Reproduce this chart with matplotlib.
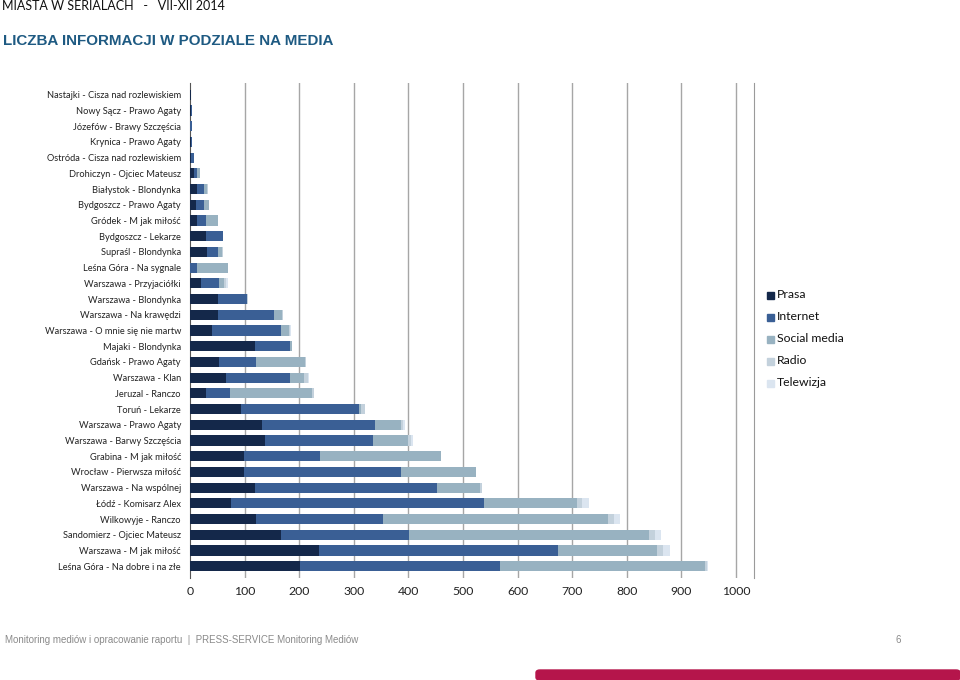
import matplotlib
matplotlib.use("Agg")
import matplotlib.pyplot as plt
import numpy as np
from matplotlib.patches import FancyBboxPatch, Rectangle

labels = [
    "Nastajki - Cisza nad rozlewiskiem",
    "Nowy Sącz - Prawo Agaty",
    "Józefów - Brawy Szczęścia",
    "Krynica - Prawo Agaty",
    "Ostróda - Cisza nad rozlewiskiem",
    "Drohiczyn - Ojciec Mateusz",
    "Białystok - Blondynka",
    "Bydgoszcz - Prawo Agaty",
    "Gródek - M jak miłość",
    "Bydgoszcz - Lekarze",
    "Supraśl - Blondynka",
    "Leśna Góra - Na sygnale",
    "Warszawa - Przyjaciółki",
    "Warszawa - Blondynka",
    "Warszawa - Na krawędzi",
    "Warszawa - O mnie się nie martw",
    "Majaki - Blondynka",
    "Gdańsk - Prawo Agaty",
    "Warszawa - Klan",
    "Jeruzal - Ranczo",
    "Toruń - Lekarze",
    "Warszawa - Prawo Agaty",
    "Warszawa - Barwy Szczęścia",
    "Grabina - M jak miłość",
    "Wrocław - Pierwsza miłość",
    "Warszawa - Na wspólnej",
    "Łódź - Komisarz Alex",
    "Wilkowyje - Ranczo",
    "Sandomierz - Ojciec Mateusz",
    "Warszawa - M jak miłość",
    "Leśna Góra - Na dobre i na złe",
]

prasa = [1, 1, 0, 1, 1, 8, 13, 11, 13, 29, 31, 0, 20, 52, 51, 40, 119, 53, 66, 29,
         93, 132, 137, 98, 99, 119, 75, 120, 166, 237, 201]
internet = [1, 3, 3, 3, 6, 4, 13, 15, 17, 31, 21, 13, 33, 53, 103, 126, 65, 68, 117, 44,
            217, 206, 198, 141, 287, 333, 463, 233, 235, 437, 367]
social = [0, 0, 1, 0, 0, 6, 6, 8, 21, 0, 6, 57, 10, 0, 14, 15, 2, 89, 26, 151,
          4, 48, 64, 220, 137, 80, 171, 412, 440, 181, 376]
radio = [0, 0, 0, 0, 0, 1, 1, 1, 0, 0, 3, 0, 3, 1, 2, 3, 1, 3, 7, 3,
         6, 4, 5, 0, 1, 3, 9, 11, 11, 11, 2]
telewizja = [0, 0, 0, 0, 0, 0, 0, 0, 0, 0, 0, 0, 3, 0, 0, 1, 0, 0, 2, 0,
             0, 4, 4, 0, 0, 0, 12, 12, 10, 14, 2]

series_names = ["Prasa", "Internet", "Social media", "Radio", "Telewizja"]
series = [prasa, internet, social, radio, telewizja]
colors = ["#14284a", "#3a5f95", "#98b2c1", "#c3d1dc", "#dbe5f0"]
xticks = [0, 100, 200, 300, 400, 500, 600, 700, 800, 900, 1000]

W, H = 960, 680
fig = plt.figure(figsize=(W / 100, H / 100), dpi=100)

ax_l, ax_r, ax_t, ax_b = 190, 754, 83, 578
ax = fig.add_axes([ax_l / W, 1 - ax_b / H, (ax_r - ax_l) / W, (ax_b - ax_t) / H])

y = np.arange(len(labels))
left = np.zeros(len(labels))
for name, vals, c in zip(series_names, series, colors):
    v = np.array(vals, dtype=float)
    ax.barh(y, v, left=left, height=0.64, color=c, label=name, zorder=3)
    left += v

xmax = 1000 * (ax_r - ax_l) / 546.0
ax.set_xlim(0, xmax)
ax.set_ylim(len(labels) - 0.25, -0.75)
ax.set_xticks(xticks)
ax.set_xticklabels([str(t) for t in xticks], fontsize=8.8, family="Lato", color="#222222")
ax.set_yticks(y)
ax.set_yticklabels(labels, fontsize=6.7, family="Lato", color="#222222")
ax.tick_params(length=0, pad=6.5)
ax.tick_params(axis="x", pad=6)
for t in xticks[1:]:
    ax.axvline(t, color="#a6a6a6", lw=1.0, zorder=1)
for s in ["top", "bottom"]:
    ax.spines[s].set_visible(False)
ax.spines["right"].set_color("#9a9a9a")
ax.spines["right"].set_linewidth(0.8)
ax.spines["left"].set_color("#555555")
ax.spines["left"].set_linewidth(0.8)

# legend
leg_y = [295, 317, 339, 361, 383]
for name, c, ly in zip(series_names, colors, leg_y):
    fig.patches.append(Rectangle((767 / W, 1 - (ly + 3.5) / H), 7 / W, 7 / H,
                                 transform=fig.transFigure, color=c, figure=fig))
    fig.text(777 / W, 1 - ly / H, name, fontsize=8.8, family="Lato",
             va="center", ha="left", color="#111111")

# header texts
fig.text(2 / W, 1 - 6 / H, "MIASTA W SERIALACH   -   VII-XII 2014", fontsize=9,
         family="Lato", va="center", ha="left", color="#111111")
fig.text(3 / W, 1 - 41 / H, "LICZBA INFORMACJI W PODZIALE NA MEDIA", fontsize=10.9,
         family="Liberation Sans", weight="bold", va="center", ha="left", color="#1e5a82")

# footer
fig.text(5 / W, 1 - 640 / H,
         "Monitoring mediów i opracowanie raportu  |  PRESS-SERVICE Monitoring Mediów",
         fontsize=7.0, family="Liberation Sans", va="center", ha="left", color="#8a8a8a")
fig.text(898 / W, 1 - 640 / H, "6", fontsize=7.0, family="Liberation Sans",
         va="center", ha="center", color="#8a8a8a")
fig.patches.append(FancyBboxPatch((536 / W, 0), (W - 536) / W, 10 / H,
                                  boxstyle="round,pad=0,rounding_size=0.004",
                                  transform=fig.transFigure, color="#b5154b", figure=fig))

fig.savefig("out.png", dpi=100)
